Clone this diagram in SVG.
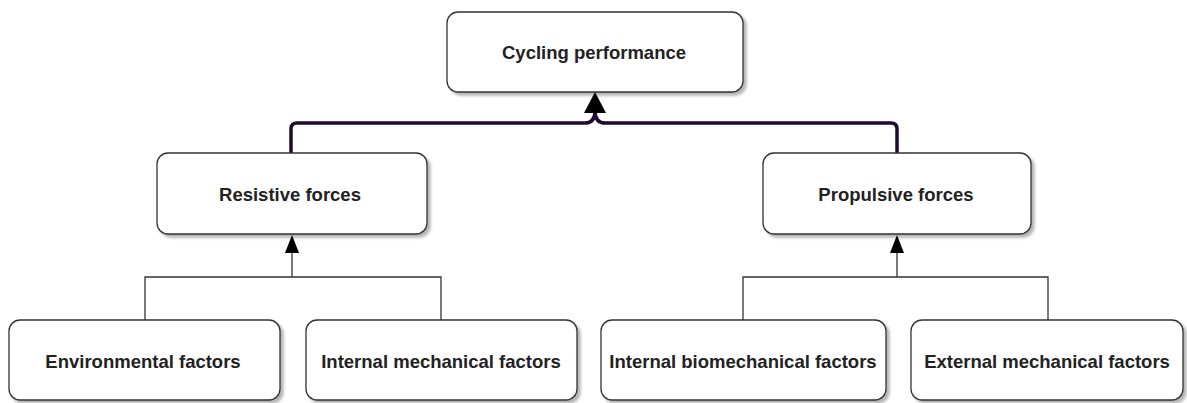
<svg xmlns="http://www.w3.org/2000/svg" width="1187" height="403" viewBox="0 0 1187 403">
<defs>
<filter id="sh" x="-5%" y="-5%" width="115%" height="130%">
<feGaussianBlur in="SourceAlpha" stdDeviation="1.5"/>
<feOffset dx="3" dy="3"/>
<feComponentTransfer><feFuncA type="linear" slope="0.3"/></feComponentTransfer>
<feMerge><feMergeNode/><feMergeNode in="SourceGraphic"/></feMerge>
</filter>
</defs>
<style>
.box{fill:#fff;stroke:#333;stroke-width:1.3;filter:url(#sh)}
.t{font-family:"Liberation Sans",Arial,sans-serif;font-weight:bold;font-size:18.5px;fill:#222;text-anchor:middle;dominant-baseline:central}
.thin{fill:none;stroke:#333;stroke-width:1.3}
.thick{fill:none;stroke:#1e0b30;stroke-width:3.5}
</style>
<rect width="1187" height="403" fill="#fff"/>
<g id="connectors">
<path class="thick" d="M291,153 V129 Q291,123 297,123 H585 Q594,123 595,113 M897,153 V129 Q897,123 891,123 H605 Q596,123 595,113"/>
<path d="M584,113 L595,92 L606,113 Z" fill="#000"/>
<path class="thin" d="M145,320 V277 H441 V320 M292,277 V252"/>
<path d="M285,253 L292,235 L299,253 Z" fill="#000"/>
<path class="thin" d="M743,320 V277 H1048 V320 M897,277 V252"/>
<path d="M890,253 L897,235 L904,253 Z" fill="#000"/>
</g>
<g id="cycling">
<rect class="box" x="447" y="12" width="296" height="80" rx="11"/>
<text class="t" x="594" y="52">Cycling performance</text>
</g>
<g id="resistive">
<rect class="box" x="157" y="153" width="270" height="81" rx="11"/>
<text class="t" x="290" y="194">Resistive forces</text>
</g>
<g id="propulsive">
<rect class="box" x="763" y="153" width="268" height="81" rx="11"/>
<text class="t" x="896" y="194">Propulsive forces</text>
</g>
<g id="environmental">
<rect class="box" x="9" y="320" width="271" height="80" rx="11"/>
<text class="t" x="143" y="361">Environmental factors</text>
</g>
<g id="internal-mechanical">
<rect class="box" x="306" y="320" width="271" height="80" rx="11"/>
<text class="t" x="441" y="361">Internal mechanical factors</text>
</g>
<g id="internal-biomechanical">
<rect class="box" x="601" y="320" width="285" height="80" rx="11"/>
<text class="t" x="743" y="361">Internal biomechanical factors</text>
</g>
<g id="external-mechanical">
<rect class="box" x="911" y="320" width="272" height="80" rx="11"/>
<text class="t" x="1047" y="361">External mechanical factors</text>
</g>
</svg>
